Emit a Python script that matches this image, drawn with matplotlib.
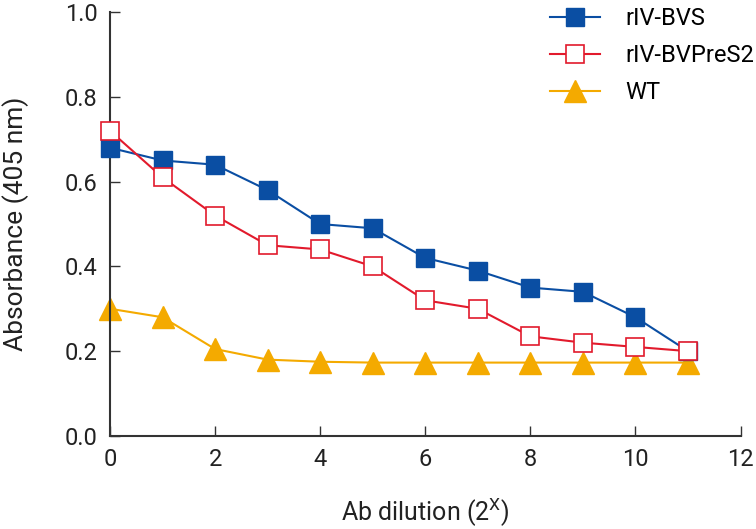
import matplotlib
matplotlib.use("Agg")
import matplotlib.pyplot as plt

plt.rcParams['font.family'] = ['Roboto', 'DejaVu Sans']

# Data
dilution = list(range(0, 12))
bvs = [0.68, 0.65, 0.64, 0.58, 0.50, 0.49, 0.42, 0.39, 0.35, 0.34, 0.28, 0.20]
bvpres2 = [0.72, 0.61, 0.52, 0.45, 0.44, 0.40, 0.32, 0.30, 0.235, 0.22, 0.21, 0.20]
wt = [0.30, 0.28, 0.205, 0.18, 0.175, 0.173, 0.173, 0.173, 0.173, 0.173, 0.173, 0.173]

blue = '#0A4EA3'
red = '#E21A2C'
orange = '#F4AA00'

fig = plt.figure(figsize=(7.56, 5.29), dpi=100)
ax = fig.add_axes([0.1455, 0.176, 0.834, 0.801])

ax.plot(dilution, bvs, color=blue, lw=1.5, marker='s', ms=12.5,
        markerfacecolor=blue, markeredgecolor=blue, label='rIV-BVS', zorder=3)
ax.plot(dilution, bvpres2, color=red, lw=1.5, marker='s', ms=12.5,
        markerfacecolor='white', markeredgecolor=red, markeredgewidth=1.2,
        label='rIV-BVPreS2', zorder=4)
ax.plot(dilution, wt, color=orange, lw=1.5, marker='^', ms=16,
        markerfacecolor=orange, markeredgecolor=orange, label='WT', zorder=2)

ax.set_xlim(0, 12)
ax.set_ylim(0, 1.0)
ax.set_xticks(range(0, 13, 2))
ax.set_yticks([0.0, 0.2, 0.4, 0.6, 0.8, 1.0])
ax.set_yticklabels(['0.0', '0.2', '0.4', '0.6', '0.8', '1.0'])

for s in ['top', 'right']:
    ax.spines[s].set_visible(False)
for s in ['left', 'bottom']:
    ax.spines[s].set_color('#333333')
    ax.spines[s].set_linewidth(1.5)

ax.tick_params(direction='in', length=7, width=1, colors='#333333',
               labelsize=17, labelcolor='#222222', pad=9)

ax.set_xlabel('Ab dilution (2$^{\\mathregular{X}}$)', fontsize=18, color='#222222', labelpad=18)
ax.set_ylabel('Absorbance (405 nm)', fontsize=19, color='#222222', labelpad=26)

leg = ax.legend(loc='upper left', bbox_to_anchor=(0.683, 1.035), frameon=False, fontsize=17,
                handlelength=2.1, labelspacing=0.6, handletextpad=1.1, borderaxespad=0)

for line in ax.lines:
    line.set_clip_on(False)

fig.savefig('out.png', dpi=100)
